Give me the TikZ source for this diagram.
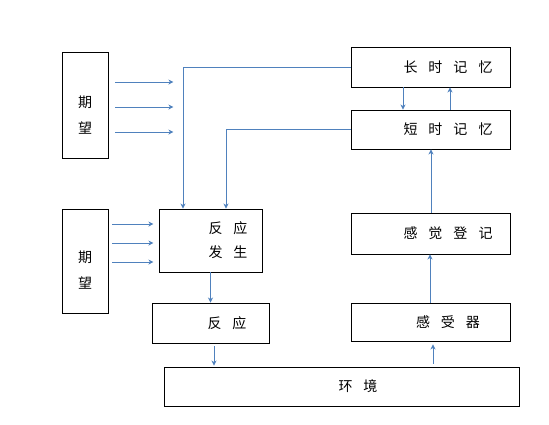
\documentclass[tikz,border=0pt]{standalone}
\usepackage{fontspec}
\newfontfamily\cjk{Noto Sans CJK SC}
\usetikzlibrary{arrows.meta, calc}
\definecolor{arrowblue}{RGB}{79,129,189}
\newcommand{\cjkgap}{\hspace{11pt}}

\begin{document}
\begin{tikzpicture}[x=1pt, y=-1pt, font=\cjk\fontsize{14}{24}\selectfont,
    box/.style={draw, line width=0.9pt, inner sep=0pt},
    flow/.style={draw=arrowblue, line width=0.9pt, -{Stealth[length=5pt, width=5pt, inset=1.5pt]}}]
    \useasboundingbox (0,0) rectangle (549,424);
    % boxes
    \node[box, minimum width=46pt, minimum height=106pt,
          label={[yshift=-10pt, align=center, font=\cjk\fontsize{14}{26}\selectfont]center:期\\望}] (hope1) at (85,105) {};
    \node[box, minimum width=46pt, minimum height=104pt,
          label={[yshift=-9pt, align=center, font=\cjk\fontsize{14}{26}\selectfont]center:期\\望}] (hope2) at (85,261) {};
    \node[box, minimum width=159pt, minimum height=40pt,
          label={[xshift=17pt]center:长\cjkgap 时\cjkgap 记\cjkgap 忆}] (ltm) at (431,67) {};
    \node[box, minimum width=159pt, minimum height=39pt,
          label={[xshift=17pt]center:短\cjkgap 时\cjkgap 记\cjkgap 忆}] (stm) at (431,129.5) {};
    \node[box, minimum width=159pt, minimum height=41pt,
          label={[xshift=17pt]center:感\cjkgap 觉\cjkgap 登\cjkgap 记}] (sreg) at (431,233.5) {};
    \node[box, minimum width=159pt, minimum height=38pt,
          label={[xshift=17pt]center:感\cjkgap 受\cjkgap 器}] (rcpt) at (431,322) {};
    \node[box, minimum width=103pt, minimum height=63pt,
          label={[xshift=17.5pt, align=center]center:反\cjkgap 应\\发\cjkgap 生}] (gen) at (210.5,240.5) {};
    \node[box, minimum width=117pt, minimum height=40pt,
          label={[xshift=16.5pt]center:反\cjkgap 应}] (resp) at (210.5,323) {};
    \node[box, minimum width=355pt, minimum height=39pt,
          label={[xshift=16.5pt]center:环\cjkgap 境}] (env) at (341.5,386.5) {};

    % expectation inputs
    \foreach \dy in {-23,2,27}
        \draw[flow] ([shift={(7,\dy)}]hope1.east) -- ++(58,0);
    \foreach \dy in {-37,-18,1}
        \draw[flow] ([shift={(4,\dy)}]hope2.east) -- ++(41,0);

    % memory to response generation
    \draw[flow] (ltm.west) -| ([xshift=-27.5pt]gen.north);
    \draw[flow] (stm.west) -| ([xshift=15.5pt]gen.north);
    \draw[flow] ([xshift=-28pt]ltm.south) -- ([xshift=-28pt]stm.north);
    \draw[flow] ([xshift=19pt]stm.north) -- ([xshift=19pt]ltm.south);

    % sensing chain
    \draw[flow] (sreg.north) -- (stm.south);
    \draw[flow] ([xshift=-1pt]rcpt.north) -- ([xshift=-1pt]sreg.south);
    \draw[flow] ([xshift=91.5pt, yshift=3pt]env.north) -- ([xshift=2pt, yshift=-3pt]rcpt.south);

    % response chain
    \draw[flow] (gen.south) -- (resp.north);
    \draw[flow] ([xshift=3.5pt, yshift=-3pt]resp.south) -- ([xshift=3.5pt, yshift=1pt]resp.south |- env.north);
\end{tikzpicture}
\end{document}
